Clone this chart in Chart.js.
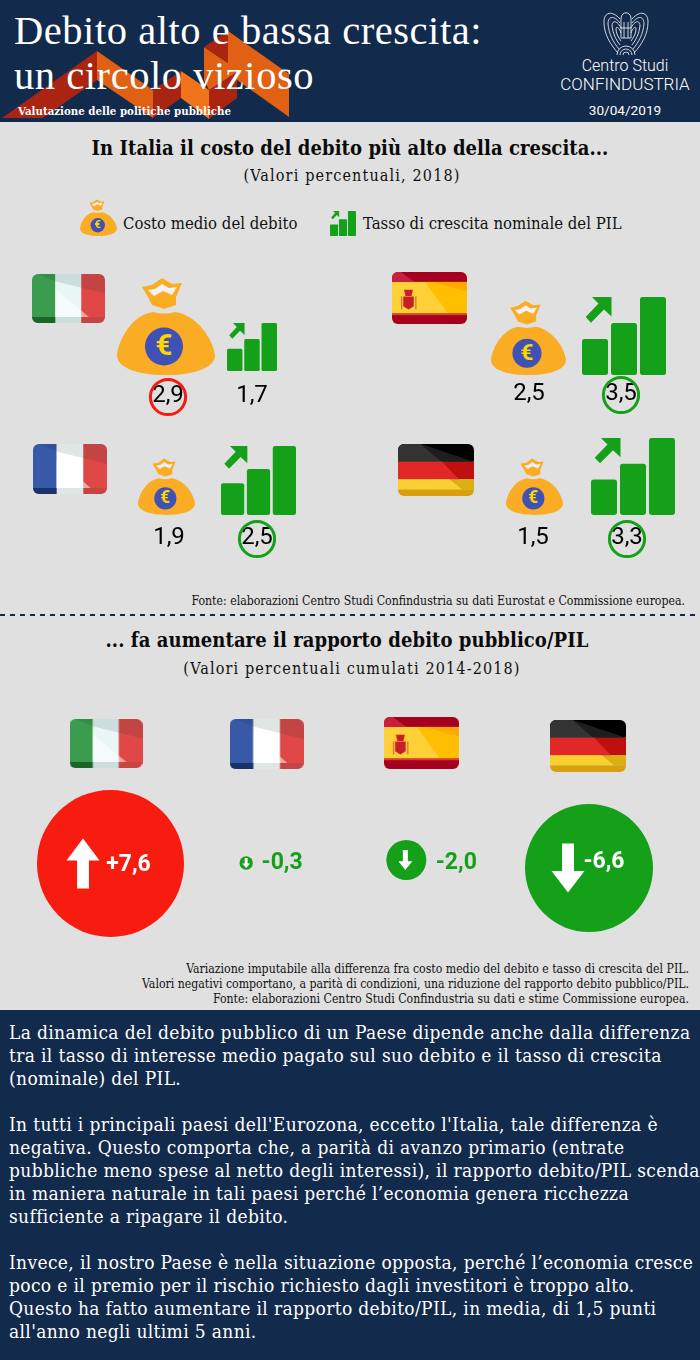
<!DOCTYPE html>
<html lang="it">
<head>
<meta charset="utf-8">
<title>Debito alto e bassa crescita</title>
<script src="https://cdn.jsdelivr.net/npm/chart.js@4/dist/chart.umd.min.js"></script>
<style>
    html, body { margin: 0; padding: 0; }
    body { width: 700px; height: 1360px; position: relative; overflow: hidden; background: #e0e0e0; font-family: 'DejaVu Serif Condensed', 'DejaVu Serif', serif; }
    .band { position: absolute; left: 0; width: 700px; background: #122a4c; }
    .txt { position: absolute; white-space: nowrap; margin: 0; }
    .center { left: 0; width: 700px; text-align: center; }
    .roboto { font-family: Roboto, sans-serif; }
    canvas { position: absolute; left: 0; }
    svg { position: absolute; left: 0; top: 0; }
    #title { left: 14px; top: 8px; font: 40.5px/45px 'Liberation Serif', serif; color: #fff; letter-spacing: 0.55px; }
    #subtitle { left: 18px; top: 104px; font-size: 11.4px; font-weight: bold; color: #fff; }
    .h2 { font-size: 20px; font-weight: bold; color: #0a0a0a; letter-spacing: 0.08px; }
    .h3 { font-size: 16px; color: #111; letter-spacing: 1.15px; }
    .legend { font-size: 16.6px; color: #111; }
    .note { right: 11px; font-size: 12.2px; line-height: 15px; text-align: right; color: #111; }
    #body-text { left: 9px; top: 1021px; font-size: 19px; line-height: 23px; color: #fff; letter-spacing: 0.35px; }
</style>
</head>
<body>
<div class="band" style="top:0;height:122px"></div>
<div class="band" style="top:1010px;height:350px"></div>

<!-- ribbon behind the title -->
<svg width="700" height="122">
    <polygon points="2,118 97,51 97,80 43,118" fill="#aa2412"/>
    <polygon points="97,51 153,90 153,118 97,80" fill="#e06014"/>
    <polygon points="153,90 181,71 181,98 153,118" fill="#aa2412"/>
    <polygon points="181,71 209,90 209,119 181,98" fill="#f0741c"/>
    <polygon points="209,90 237,72 237,98 209,119" fill="#aa2412"/>
    <polygon points="204,47 204,80 209,90 237,72 237,80 289,117 289,74 228,31 228,63" fill="#e06014"/>
    <polygon points="204,47 228,31 228,63" fill="#aa2412"/>
    <!-- logo -->
    <g fill="none" stroke="#fff" stroke-width="0.8">
        <path d="M620,19 C612,10 604,12 604,22 C604,34 610,44 618,53 M620,23 C614,15 608,16 608,24 C609,34 613,42 619,49 M621,28 C617,20 612,20 612,26 C613,34 616,40 620,45 M621,33 C619,27 616,26 616,29 C616,33 618,37 621,41"/>
        <path d="M632,19 C640,10 648,12 648,22 C648,34 642,44 634,53 M632,23 C638,15 644,16 644,24 C643,34 639,42 633,49 M631,28 C635,20 640,20 640,26 C639,34 636,40 632,45 M631,33 C633,27 636,26 636,29 C636,33 634,37 631,41"/>
        <path d="M621,38 L621,18 C622,11 630,11 631,18 L631,38 Z M624,22 L624,38 M628,22 L628,38 M621,28 L631,28"/>
        <path d="M617,55 A9,9 0 0 1 635,55 M620,55 A6,6 0 0 1 632,55 M623,55 A3,3 0 0 1 629,55"/>
    </g>
</svg>

<div id="title" class="txt">Debito alto e bassa crescita:<br>un circolo vizioso</div>
<div id="subtitle" class="txt">Valutazione delle politiche pubbliche</div>
<div class="txt roboto" style="left:540px;width:170px;text-align:center;top:56px;font-size:16px;font-weight:300;color:#fff">Centro Studi</div>
<div class="txt roboto" style="left:540px;width:170px;text-align:center;top:74px;font-size:17px;font-weight:300;color:#fff">CONFINDUSTRIA</div>
<div class="txt roboto" style="left:540px;width:170px;text-align:center;top:102px;font-size:13.6px;color:#fff">30/04/2019</div>

<div class="txt center h2" style="top:136px">In Italia il costo del debito più alto della crescita...</div>
<div class="txt center h3" style="top:166px;left:2px">(Valori percentuali, 2018)</div>

<canvas id="legendBag" style="left:80px;top:199px"></canvas>
<div class="txt legend" style="left:123px;top:214px">Costo medio del debito</div>
<canvas id="legendBars" style="left:330px;top:211px"></canvas>
<div class="txt legend" style="left:363px;top:214px">Tasso di crescita nominale del PIL</div>

<canvas id="costChart" width="700" height="320" style="top:250px"></canvas>

<div class="txt note" style="top:594px;right:15px">Fonte: elaborazioni Centro Studi Confindustria su dati Eurostat e Commissione europea.</div>
<svg width="700" height="2" style="top:614px"><line x1="0" y1="1" x2="700" y2="1" stroke="#122a4c" stroke-width="2" stroke-dasharray="5 5"/></svg>

<div class="txt center h2" style="top:628px;left:-3px">... fa aumentare il rapporto debito pubblico/PIL</div>
<div class="txt center h3" style="top:659px;left:2px">(Valori percentuali cumulati 2014-2018)</div>

<canvas id="changeChart" width="700" height="250" style="top:700px"></canvas>

<div class="txt note" style="top:962px">Variazione imputabile alla differenza fra costo medio del debito e tasso di crescita del PIL.<br>Valori negativi comportano, a parità di condizioni, una riduzione del rapporto debito pubblico/PIL.<br>Fonte: elaborazioni Centro Studi Confindustria su dati e stime Commissione europea.</div>

<div id="body-text" class="txt">La dinamica del debito pubblico di un Paese dipende anche dalla differenza<br>tra il tasso di interesse medio pagato sul suo debito e il tasso di crescita<br>(nominale) del PIL.<br><br>In tutti i principali paesi dell'Eurozona, eccetto l'Italia, tale differenza è<br>negativa. Questo comporta che, a parità di avanzo primario (entrate<br>pubbliche meno spese al netto degli interessi), il rapporto debito/PIL scenda<br>in maniera naturale in tali paesi perché l’economia genera ricchezza<br>sufficiente a ripagare il debito.<br><br>Invece, il nostro Paese è nella situazione opposta, perché l’economia cresce<br>poco e il premio per il rischio richiesto dagli investitori è troppo alto.<br>Questo ha fatto aumentare il rapporto debito/PIL, in media, di 1,5 punti<br>all'anno negli ultimi 5 anni.</div>

<script>
// Values
const countries = ['Italia', 'Spagna', 'Francia', 'Germania'];
const debtCost = [2.9, 2.5, 1.9, 1.5];
const gdpGrowth = [1.7, 3.5, 2.5, 3.3];

const changeCountries = ['Italia', 'Francia', 'Spagna', 'Germania'];
const debtRatioChange = [7.6, -0.3, -2.0, -6.6];

// Panel placement of the first chart (column and row of each country)
const panelCol = [0, 1, 0, 1];
const panelRow = [1, 1, 0, 0];

// Icon sizes and offsets in pixels, kept apart from the values
const bagSize = [98, 75, 57, 57];
const barsSize = [[50, 48], [84, 78], [75, 69], [84, 77]];
const bagShift = [0, 0.5, 0.5, 6.5];
const barsShift = [86, 96, 92.5, 105];
const barsLift = [4, 0, 0, 0];
const flagShift = [-97.5, -98.5, -96, -92];
const flagLift = [76.5, 77, 46, 45];
const costLabelDx = [2, 0.5, 2.5, -1.5];
const growthLabelDx = [0, -3, -1.5, -6];
const labelDrop = [21, 19, 23, 23];

// Second chart
const flagNudge = [0, 0, -6, 0];
const flagRise = [0.5, 0, 1, -2];
const bubbleNudge = [4.5, -20.5, -21, 1];
const bubbleRise = [0.5, 1, 4, -4];
const bubbleRadius = [73.5, 6.7, 20, 64];
const arrowDx = [-27.5, 0, -1, -21];
const arrowSize = [[33, 50], [8, 10], [14, 20], [33, 49]];
const changeLabelDx = [18, 36, 50, 15];
const changeLabelDy = [1.5, 0, 3, -6];

const flagDims = { Italia: [73, 49], Francia: [74, 50], Spagna: [75, 52], Germania: [76, 52] };

const RED = '#f71c0f';
const GREEN = '#14a018';
const ORANGE = '#f9ac24';

function makeCanvas(w, h) {
    const c = document.createElement('canvas');
    c.width = w;
    c.height = h;
    return c;
}

function poly(ctx, pts, color) {
    ctx.fillStyle = color;
    ctx.beginPath();
    pts.forEach((p, i) => i ? ctx.lineTo(p[0], p[1]) : ctx.moveTo(p[0], p[1]));
    ctx.closePath();
    ctx.fill();
}

// Money bag, drawn on a 98 unit square
function drawBag(ctx, size) {
    const k = size / 98;
    ctx.save();
    ctx.scale(k, k);
    ctx.fillStyle = ORANGE;
    ctx.beginPath();
    ctx.moveTo(36, 35);
    ctx.quadraticCurveTo(47, 38, 58, 35);
    ctx.bezierCurveTo(80, 38, 96, 62, 98, 78);
    ctx.bezierCurveTo(98, 90, 80, 98, 49, 98);
    ctx.bezierCurveTo(18, 98, 0, 90, 0, 78);
    ctx.bezierCurveTo(2, 62, 15, 38, 36, 35);
    ctx.fill();
    poly(ctx, [[25, 10], [35, 8], [45, 1], [55, 7], [65, 6], [59, 20], [59, 28], [47, 32], [35, 28], [31, 20]], ORANGE);
    poly(ctx, [[31, 13], [38, 12], [45, 7], [52, 11], [60, 10], [55, 18], [46, 14], [37, 19]], '#f2f2f2');
    ctx.fillStyle = '#3f51b5';
    ctx.beginPath();
    ctx.arc(47, 69.5, 19, 0, Math.PI * 2);
    ctx.fill();
    ctx.fillStyle = '#ffd600';
    ctx.font = 'bold 30px Roboto';
    ctx.textAlign = 'center';
    ctx.textBaseline = 'middle';
    ctx.fillText('€', 47, 70.5);
    ctx.restore();
}

// Three rising bars with the arrow, drawn on an 84x78 box
function drawBars(ctx, w, h) {
    ctx.save();
    ctx.scale(w / 84, h / 78);
    ctx.fillStyle = GREEN;
    [[0, 42, 26], [29, 26, 26], [58, 0, 26]].forEach(b => {
        ctx.beginPath();
        ctx.roundRect(b[0], b[1], b[2], 78 - b[1], 2.5);
        ctx.fill();
    });
    poly(ctx, [[10, 0], [29.5, 0], [29.5, 19.5], [22, 12.5], [9, 25.7], [3.7, 20], [16.5, 6.5]], GREEN);
    ctx.restore();
}

// pointStyle canvases are centred on the point, so the icon goes in the top half:
// the point then marks the bottom of the icon
function bagPoint(size) {
    const c = makeCanvas(size, size * 2);
    drawBag(c.getContext('2d'), size);
    return c;
}

function barsPoint(w, h) {
    const c = makeCanvas(w, h * 2);
    drawBars(c.getContext('2d'), w, h);
    return c;
}

function flagPoint(name) {
    const [w, h] = flagDims[name];
    const c = makeCanvas(w, h);
    const ctx = c.getContext('2d');
    const rel = pts => pts.map(p => [p[0] * w, p[1] * h]);
    ctx.beginPath();
    ctx.roundRect(0, 0, w, h, 6);
    ctx.clip();
    if (name === 'Italia' || name === 'Francia') {
        const cols = name === 'Italia' ? ['#3a9c4c', '#e8f6f5', '#e04848'] : ['#3858a8', '#ffffff', '#e04848'];
        const cuts = name === 'Italia' ? [0, 0.32, 0.675, 1] : [0, 0.32, 0.68, 1];
        cols.forEach((col, i) => {
            ctx.fillStyle = col;
            ctx.fillRect(cuts[i] * w, 0, (cuts[i + 1] - cuts[i]) * w, h);
        });
        poly(ctx, rel([[0.08, 0], [1, 0], [1, 0.4], [0.32, 0.15]]), 'rgba(0,40,40,0.12)');
        poly(ctx, rel([[0.32, 0.3], [0.78, 0.88], [0.32, 0.88]]), 'rgba(255,255,255,0.5)');
        poly(ctx, rel([[0, 0.88], [1, 0.88], [1, 1], [0, 1]]), 'rgba(0,50,40,0.12)');
        if (name === 'Italia') poly(ctx, rel([[0, 0.88], [0.32, 0.88], [0.32, 1], [0, 1]]), 'rgba(0,50,0,0.45)');
        if (name === 'Francia') poly(ctx, rel([[0, 0.88], [0.32, 0.88], [0.32, 1], [0, 1]]), 'rgba(0,20,60,0.5)');
    } else if (name === 'Spagna') {
        ctx.fillStyle = '#ffbe00';
        ctx.fillRect(0, 0, w, h);
        poly(ctx, rel([[0, 0.19], [0.44, 0.19], [0.75, 0.8], [0, 0.8]]), '#ffd038');
        poly(ctx, rel([[0.55, 0.19], [1, 0.19], [1, 0.38]]), '#ffa800');
        ctx.fillStyle = '#a5001e';
        ctx.fillRect(0, 0, w, 0.19 * h);
        ctx.fillRect(0, 0.8 * h, w, 0.2 * h);
        poly(ctx, rel([[0, 0], [0.12, 0], [0.3, 0.19], [0, 0.19]]), '#c8203a');
        poly(ctx, rel([[0, 0.8], [1, 0.8], [1, 0.83], [0, 0.83]]), '#d84030');
        poly(ctx, rel([[0.15, 0.47], [0.29, 0.47], [0.29, 0.66], [0.22, 0.72], [0.15, 0.66]]), '#c81e2a');
        poly(ctx, rel([[0.16, 0.34], [0.28, 0.34], [0.26, 0.46], [0.18, 0.46]]), '#c81e2a');
        ctx.fillStyle = '#d87030';
        ctx.fillRect(0.12 * w, 0.47 * h, 1.2, 0.25 * h);
        ctx.fillRect(0.31 * w, 0.47 * h, 1.2, 0.25 * h);
    } else {
        const bands = [['#000000', 0, 0.34], ['#c00f0f', 0.34, 0.68], ['#dab010', 0.68, 0.87], ['#d8a010', 0.87, 1]];
        bands.forEach(b => {
            ctx.fillStyle = b[0];
            ctx.fillRect(0, b[1] * h, w, (b[2] - b[1]) * h);
        });
        poly(ctx, rel([[0, 0], [0.3, 0.0], [0.58, 0.34], [0, 0.34]]), '#333333');
        poly(ctx, rel([[0.3, 0], [1, 0.34], [0.58, 0.34]]), '#1e1e1e');
        poly(ctx, rel([[0, 0.34], [0.58, 0.34], [0.8, 0.68], [0, 0.68]]), '#e02828');
        poly(ctx, rel([[0, 0.68], [0.68, 0.68], [0.84, 0.87], [0, 0.87]]), '#f8d030');
    }
    return c;
}

// Legend icons use the same drawings as the chart
const legendBag = document.getElementById('legendBag');
legendBag.width = 37;
legendBag.height = 38;
drawBag(legendBag.getContext('2d'), 37);
const legendBars = document.getElementById('legendBars');
legendBars.width = 26;
legendBars.height = 25;
drawBars(legendBars.getContext('2d'), 26, 25);

function fmt(v) {
    return v.toFixed(1).replace('.', ',');
}

// First chart: one panel per country
const colUnit = 362;
const rowUnit = 140;

const panelLabels = {
    id: 'panelLabels',
    afterDatasetsDraw(chart) {
        const ctx = chart.ctx;
        const bags = chart.getDatasetMeta(1).data;
        const bars = chart.getDatasetMeta(2).data;
        ctx.save();
        ctx.font = '24px Roboto';
        ctx.textAlign = 'center';
        ctx.textBaseline = 'middle';
        countries.forEach((name, i) => {
            const y = bags[i].y + labelDrop[i];
            const costX = bags[i].x + costLabelDx[i];
            const growthX = bars[i].x + growthLabelDx[i];
            ctx.fillStyle = '#000';
            ctx.fillText(fmt(debtCost[i]), costX, y);
            ctx.fillText(fmt(gdpGrowth[i]), growthX, y);
            // the higher of the two values gets a ring
            const costWins = debtCost[i] > gdpGrowth[i];
            ctx.strokeStyle = costWins ? RED : GREEN;
            ctx.lineWidth = 3;
            ctx.beginPath();
            ctx.arc(costWins ? costX : growthX, y + 1, 17.6, 0, Math.PI * 2);
            ctx.stroke();
        });
        ctx.restore();
    }
};

new Chart(document.getElementById('costChart'), {
    type: 'scatter',
    data: {
        datasets: [
            {
                label: 'Paese',
                data: countries.map((name, i) => ({ x: panelCol[i] + flagShift[i] / colUnit, y: panelRow[i] + flagLift[i] / rowUnit })),
                pointStyle: countries.map(name => flagPoint(name))
            },
            {
                label: 'Costo medio del debito',
                data: debtCost.map((v, i) => ({ x: panelCol[i] + bagShift[i] / colUnit, y: panelRow[i] })),
                pointStyle: bagSize.map(s => bagPoint(s))
            },
            {
                label: 'Tasso di crescita nominale del PIL',
                data: gdpGrowth.map((v, i) => ({ x: panelCol[i] + barsShift[i] / colUnit, y: panelRow[i] + barsLift[i] / rowUnit })),
                pointStyle: barsSize.map(s => barsPoint(s[0], s[1]))
            }
        ]
    },
    options: {
        responsive: false,
        animation: false,
        events: [],
        layout: { padding: 0, autoPadding: false },
        plugins: { legend: { display: false }, tooltip: { enabled: false } },
        scales: {
            x: { display: false, min: -166 / colUnit, max: 534 / colUnit },
            y: { display: false, min: -55 / rowUnit, max: 265 / rowUnit }
        }
    },
    plugins: [panelLabels]
});

// Second chart: flag row above, circles below
const slotUnit = 160.67;
const slotRow = 120;

function drawArrow(ctx, x, y, w, h, up) {
    // x, y is the centre of the arrow
    const dir = up ? -1 : 1;
    const tip = y + dir * h / 2;
    const tail = y - dir * h / 2;
    const neck = tip - dir * h * 0.44;
    const shaft = w * 0.36 / 2;
    poly(ctx, [[x, tip], [x + w / 2, neck], [x + shaft, neck], [x + shaft, tail], [x - shaft, tail], [x - shaft, neck], [x - w / 2, neck]], '#fff');
}

const changeMarks = {
    id: 'changeMarks',
    afterDatasetsDraw(chart) {
        const ctx = chart.ctx;
        const pts = chart.getDatasetMeta(1).data;
        ctx.save();
        ctx.font = 'bold 23px Roboto';
        ctx.textAlign = 'center';
        ctx.textBaseline = 'middle';
        debtRatioChange.forEach((v, i) => {
            const p = pts[i];
            drawArrow(ctx, p.x + arrowDx[i], p.y, arrowSize[i][0], arrowSize[i][1], v > 0);
            // big circles hold their label, small ones have it beside them
            ctx.fillStyle = bubbleRadius[i] > 40 ? '#fff' : GREEN;
            ctx.fillText((v > 0 ? '+' : '') + fmt(v), p.x + changeLabelDx[i], p.y + changeLabelDy[i]);
        });
        ctx.restore();
    }
};

new Chart(document.getElementById('changeChart'), {
    type: 'bubble',
    data: {
        datasets: [
            {
                type: 'scatter',
                label: 'Paese',
                data: changeCountries.map((name, i) => ({ x: i + flagNudge[i] / slotUnit, y: 1 + flagRise[i] / slotRow })),
                pointStyle: changeCountries.map(name => flagPoint(name))
            },
            {
                label: 'Variazione debito/PIL',
                data: debtRatioChange.map((v, i) => ({ x: i + bubbleNudge[i] / slotUnit, y: bubbleRise[i] / slotRow, r: bubbleRadius[i] })),
                backgroundColor: debtRatioChange.map(v => v > 0 ? RED : GREEN),
                borderWidth: 0
            }
        ]
    },
    options: {
        responsive: false,
        animation: false,
        events: [],
        layout: { padding: 0, autoPadding: false },
        plugins: { legend: { display: false }, tooltip: { enabled: false } },
        scales: {
            x: { type: 'linear', display: false, min: -106 / slotUnit, max: 594 / slotUnit },
            y: { display: false, min: -86 / slotRow, max: 164 / slotRow }
        }
    },
    plugins: [changeMarks]
});
</script>
</body>
</html>
